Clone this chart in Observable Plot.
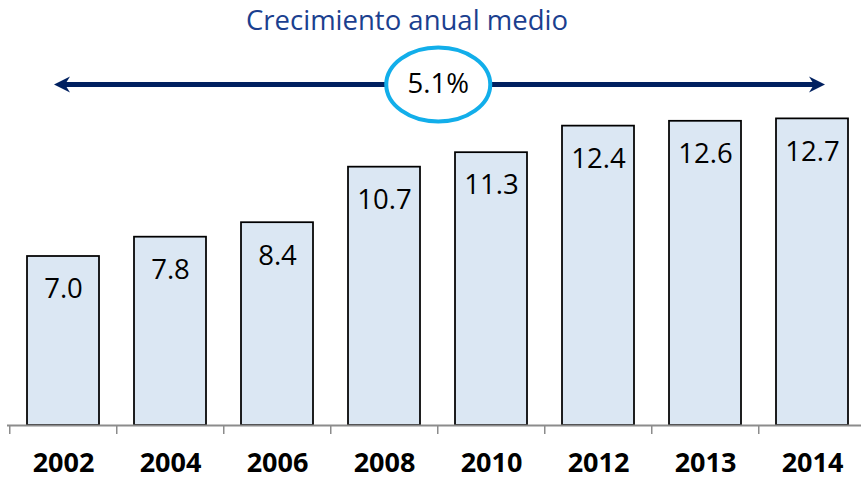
<!DOCTYPE html>
<html>
<head>
<meta charset="utf-8">
<script src="https://cdn.jsdelivr.net/npm/d3@7"></script>
<script src="https://cdn.jsdelivr.net/npm/@observablehq/plot@0.6"></script>
<style>
  html, body { margin: 0; padding: 0; background: #fff; }
  #title { width: 861px; height: 40px; line-height: 40px; box-sizing: border-box; padding-right: 47px;
           text-align: center; font-family: "Open Sans", sans-serif; font-size: 27.5px; color: #1b3f8f; }
</style>
</head>
<body>
<div id="title"></div>
<div id="chart"></div>
<script>
const titleText = "Crecimiento anual medio";
const years = ["2002", "2004", "2006", "2008", "2010", "2012", "2013", "2014"];
const values = [7.0, 7.8, 8.4, 10.7, 11.3, 12.4, 12.6, 12.7];
const valueLabels = ["7.0", "7.8", "8.4", "10.7", "11.3", "12.4", "12.6", "12.7"];
const growthLabel = "5.1%";
const arrowFrom = "2002";
const arrowTo = "2014";
const ellipseAt = "2008";
const arrowLevel = 14;

document.getElementById("title").textContent = titleText;

const data = years.map((y, i) => ({year: y, value: values[i], label: valueLabels[i]}));

const step = 107.5;
const k = 0.5523;
const ellipseSymbol = {draw(ctx) {
  const rx = 52, ry = 37;
  ctx.moveTo(rx, 0);
  ctx.bezierCurveTo(rx, k * ry, k * rx, ry, 0, ry);
  ctx.bezierCurveTo(-k * rx, ry, -rx, k * ry, -rx, 0);
  ctx.bezierCurveTo(-rx, -k * ry, -k * rx, -ry, 0, -ry);
  ctx.bezierCurveTo(k * rx, -ry, rx, -k * ry, rx, 0);
  ctx.closePath();
}};
const headLeft = {draw(ctx) {
  ctx.moveTo(-11, 0); ctx.lineTo(5, -8); ctx.lineTo(0, 0); ctx.lineTo(5, 8); ctx.closePath();
}};
const headRight = {draw(ctx) {
  ctx.moveTo(11, 0); ctx.lineTo(-5, -8); ctx.lineTo(0, 0); ctx.lineTo(-5, 8); ctx.closePath();
}};

const navy = "#002060";
const annot = [{from: arrowFrom, to: arrowTo, mid: ellipseAt, level: arrowLevel, label: growthLabel}];

const chart = Plot.plot({
  width: 861,
  height: 440,
  marginTop: 47,
  marginBottom: 55,
  marginLeft: 7,
  marginRight: 0,
  style: {fontFamily: "'Open Sans', sans-serif", background: "#fff", overflow: "visible"},
  x: {domain: years, range: [7, 867], paddingInner: 0.33, paddingOuter: 0.165, align: 0.5, axis: null},
  y: {domain: [0, 14], axis: null},
  marks: [
    Plot.barY(data, {x: "year", y: "value", fill: "#dbe7f3", stroke: "#000", strokeWidth: 1.75}),
    Plot.ruleY([0], {stroke: "#8c8c8c", strokeWidth: 2}),
    Plot.ruleX(years, {x: d => d, y1: () => 0, y2: () => 0, insetBottom: -9, dx: -step / 2, stroke: "#8c8c8c", strokeWidth: 1.5}),
    Plot.ruleX([years[years.length - 1]], {x: d => d, y1: () => 0, y2: () => 0, insetBottom: -9, dx: step / 2, stroke: "#8c8c8c", strokeWidth: 1.5}),
    Plot.text(data, {x: "year", y: "value", text: "label", dy: 33, fontSize: 27.5, fill: "#000"}),
    Plot.text(data, {x: "year", frameAnchor: "bottom", text: "year", dy: 46, fontSize: 27, fontWeight: "bold", fill: "#000"}),
    Plot.link(annot, {x1: "from", x2: "to", y1: "level", y2: "level", dx: 1.5, dy: -3, stroke: navy, strokeWidth: 5}),
    Plot.dot(annot, {x: "from", y: "level", dx: 1.5, dy: -3, symbol: headLeft, fill: navy, stroke: "none"}),
    Plot.dot(annot, {x: "to", y: "level", dx: 1.5, dy: -3, symbol: headRight, fill: navy, stroke: "none"}),
    Plot.dot(annot, {x: "mid", y: "level", dx: step / 2, dy: -3, symbol: ellipseSymbol, fill: "#fff", stroke: "#12aeea", strokeWidth: 4}),
    Plot.text(annot, {x: "mid", y: "level", dx: step / 2, dy: -3, text: "label", fontSize: 27.5, fill: "#000"})
  ]
});
document.getElementById("chart").appendChild(chart);
</script>
</body>
</html>
